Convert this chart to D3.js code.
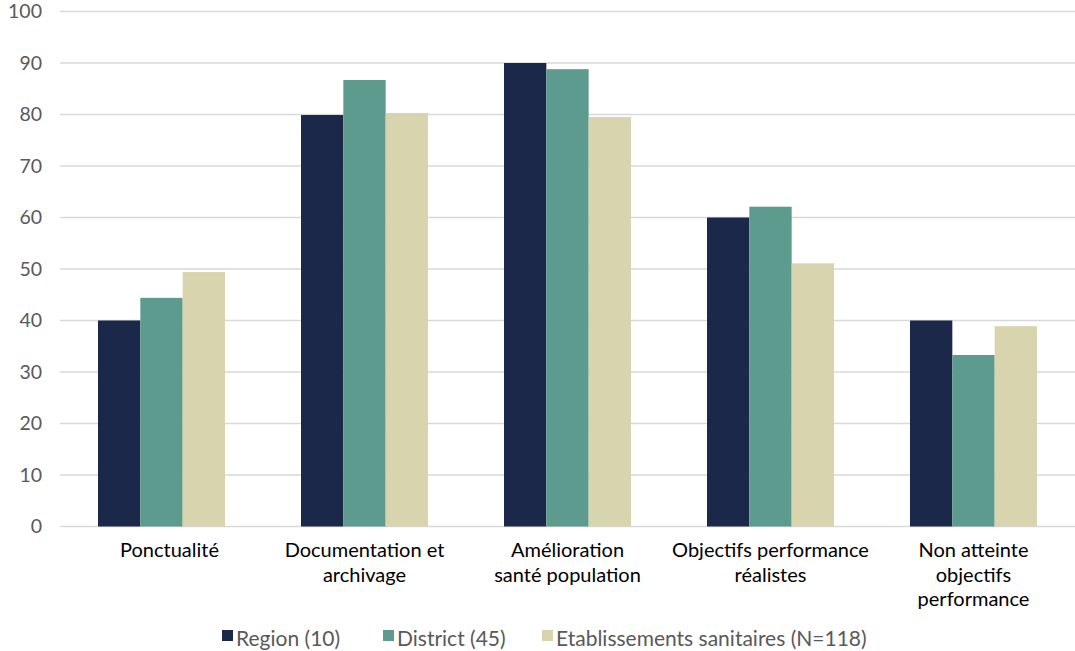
<!DOCTYPE html>
<html><head><meta charset="utf-8">
<script src="https://cdn.jsdelivr.net/npm/d3@7"></script>
<style>body{margin:0;background:#fff}svg{display:block}</style>
</head><body>
<svg id="c" width="1075" height="651"></svg>
<script>
const categories = ["Ponctualité", "Documentation et\narchivage", "Amélioration\nsanté population", "Objectifs performance\nréalistes", "Non atteinte\nobjectifs\nperformance"];
const seriesNames = ["Region (10)", "District (45)", "Etablissements sanitaires (N=118)"];
const region = [40, 79.9, 90, 60, 40];
const district = [44.4, 86.7, 88.8, 62.1, 33.3];
const etablissements = [49.4, 80.3, 79.5, 51.1, 38.9];
const yTicks = [0, 10, 20, 30, 40, 50, 60, 70, 80, 90, 100];
const colors = ["#1b2849", "#5e9b8f", "#d7d4ae"];

const series = [region, district, etablissements];
const svg = d3.select("#c");
const font = "Lato, 'DejaVu Sans', sans-serif";

const x0 = d3.scaleBand().domain(categories).range([60, 1075]).padding(0);
const x1 = d3.scaleBand().domain(d3.range(3)).range([38, x0.bandwidth() - 38]).padding(0);
const y = d3.scaleLinear().domain([0, 100]).range([526.5, 11.5]);

// gridlines
svg.append("g").selectAll("line").data(yTicks).join("line")
  .attr("x1", 60).attr("x2", 1075)
  .attr("y1", d => y(d)).attr("y2", d => y(d))
  .attr("stroke", "#d9d9d9").attr("stroke-width", 1.5);

// y labels
const yAxis = d3.axisLeft(y).tickValues(yTicks).tickSize(0).tickPadding(0);
const ya = svg.append("g").attr("transform", "translate(42,0)").call(yAxis);
ya.select(".domain").remove();
ya.selectAll("text").attr("font-family", font).attr("font-size", 19.5).attr("fill", "#595959");

// bars
const groups = svg.append("g").selectAll("g").data(categories).join("g")
  .attr("transform", d => `translate(${x0(d)},0)`);
groups.selectAll("rect").data((d, i) => series.map((s, k) => ({k, v: s[i]}))).join("rect")
  .attr("x", d => x1(d.k)).attr("width", x1.bandwidth())
  .attr("y", d => y(d.v)).attr("height", d => y(0) - y(d.v))
  .attr("fill", d => colors[d.k]);

// category labels
const xa = svg.append("g");
categories.forEach((c, ci) => {
  const cx = x0(c) + x0.bandwidth() / 2 + (ci === 0 ? 8 : 0);
  const t = xa.append("text").attr("x", cx).attr("y", 557)
    .attr("text-anchor", "middle").attr("font-family", font).attr("font-size", 20).attr("fill", "#000");
  c.split("\n").forEach((line, i) => {
    t.append("tspan").attr("x", cx).attr("dy", i === 0 ? 0 : 24.5).text(line);
  });
});

// legend
const legX = [222, 383, 542];
const lg = svg.append("g");
seriesNames.forEach((n, i) => {
  lg.append("rect").attr("x", legX[i]).attr("y", 630).attr("width", 11).attr("height", 11).attr("fill", colors[i]);
  lg.append("text").attr("x", legX[i] + 14).attr("y", 645.5).attr("font-family", font)
    .attr("font-size", 21).attr("fill", "#595959").text(n);
});
</script>
</body></html>
